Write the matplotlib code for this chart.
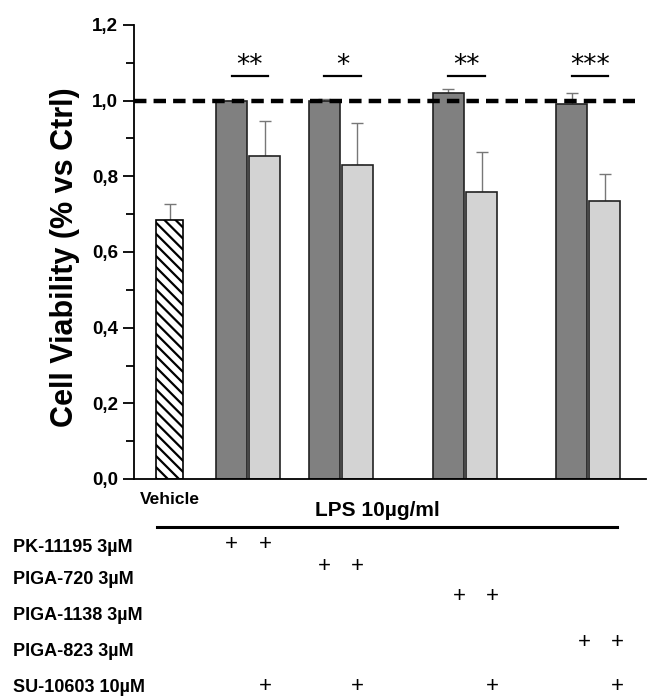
import matplotlib.pyplot as plt
import matplotlib.transforms as mtransforms

plt.rcParams['font.family'] = ['Liberation Sans', 'DejaVu Sans']
plt.rcParams['hatch.linewidth'] = 1.6

# data
vehicle_val = 0.685
vehicle_err = 0.043
dark_vals = [1.0, 1.0, 1.021, 0.992]
dark_errs = [0.0, 0.005, 0.009, 0.027]
light_vals = [0.855, 0.831, 0.759, 0.736]
light_errs = [0.091, 0.111, 0.106, 0.070]
stars = ['**', '*', '**', '***']
treatments = ['PK-11195 3µM', 'PIGA-720 3µM', 'PIGA-1138 3µM', 'PIGA-823 3µM', 'SU-10603 10µM']
yticks = [0.0, 0.2, 0.4, 0.6, 0.8, 1.0, 1.2]
yticklabels = ['0,0', '0,2', '0,4', '0,6', '0,8', '1,0', '1,2']

# layout (x in bar-width units)
vehicle_x = 1.16
dark_x = [3.15, 6.13, 10.13, 14.10]
light_x = [x + 1.07 for x in dark_x]
plus_shift = [0.0, 0.0, 0.35, 0.42]

fig = plt.figure(figsize=(6.48, 6.98), dpi=100)
ax = fig.add_axes([134 / 648, 1 - 479 / 698, 512 / 648, 454 / 698])

ax.bar(vehicle_x, vehicle_val, width=0.87, color='white', edgecolor='black',
       hatch='\\\\\\', linewidth=1.2, zorder=2)
ax.errorbar(vehicle_x, vehicle_val, yerr=[[0], [vehicle_err]], fmt='none',
            ecolor='#777777', elinewidth=1, capsize=4, capthick=1, zorder=1)

ax.bar(dark_x, dark_vals, width=1.0, color='#808080', edgecolor='#222222',
       linewidth=1.2, zorder=2)
ax.errorbar(dark_x, dark_vals, yerr=[[0] * 4, dark_errs], fmt='none',
            ecolor='#777777', elinewidth=1, capsize=4, capthick=1, zorder=1)
ax.bar(light_x, light_vals, width=1.0, color='#d3d3d3', edgecolor='#222222',
       linewidth=1.2, zorder=2)
ax.errorbar(light_x, light_vals, yerr=[[0] * 4, light_errs], fmt='none',
            ecolor='#777777', elinewidth=1, capsize=4, capthick=1, zorder=1)

# reference line at 1.0
ax.plot([0, 16.16], [1.0, 1.0], color='black', lw=3.2, dashes=(2.8, 1.6), zorder=3)

# significance
for d, l, s in zip(dark_x, light_x, stars):
    ax.plot([d, l + 0.1], [1.065, 1.065], color='black', lw=1.6, clip_on=False)
    ax.text((d + l + 0.1) / 2, 1.072, s, ha='center', va='baseline',
            fontsize=19, family='DejaVu Sans', clip_on=False)

ax.set_xlim(0, 16.5)
ax.set_ylim(0, 1.2)
ax.set_yticks(yticks)
ax.set_yticklabels(yticklabels, fontsize=13.5, fontweight='bold')
ax.set_yticks([0.1, 0.3, 0.5, 0.7, 0.9, 1.1], minor=True)
ax.tick_params(axis='y', which='major', length=8, width=1.3, direction='out')
ax.tick_params(axis='y', which='minor', length=6, width=1.3, direction='out')
ax.set_xticks([])
for side in ['top', 'right']:
    ax.spines[side].set_visible(False)
ax.spines['left'].set_linewidth(1.3)
ax.spines['bottom'].set_linewidth(1.3)

ax.set_ylabel('Cell Viability (% vs Ctrl)', fontsize=22, fontweight='bold')
ax.yaxis.set_label_coords(-0.105, 0.488)

# treatment table below
trans = mtransforms.blended_transform_factory(ax.transData, fig.transFigure)
ax.text(vehicle_x, 1 - 500 / 698, 'Vehicle', transform=trans, ha='center',
        va='center', fontsize=12.5, fontweight='bold')
ax.text(7.85, 1 - 510 / 698, 'LPS 10µg/ml', transform=trans, ha='center',
        va='center', fontsize=15, fontweight='bold')
ax.plot([0.74, 15.58], [1 - 527 / 698, 1 - 527 / 698], transform=trans,
        color='black', lw=2.2, clip_on=False)

label_y = [547, 580, 615, 652, 687]
plus_y = [545, 567, 597, 643]
for t, yy in zip(treatments, label_y):
    fig.text(13 / 648, 1 - yy / 698, t, ha='left', va='center',
             fontsize=13, fontweight='bold')
for i in range(4):
    for x in (dark_x[i], light_x[i]):
        ax.text(x + plus_shift[i], 1 - plus_y[i] / 698, '+', transform=trans,
                ha='center', va='center', fontsize=16)
    ax.text(light_x[i] + plus_shift[i], 1 - 687 / 698, '+', transform=trans,
            ha='center', va='center', fontsize=16)

fig.savefig('out.png', dpi=100)
